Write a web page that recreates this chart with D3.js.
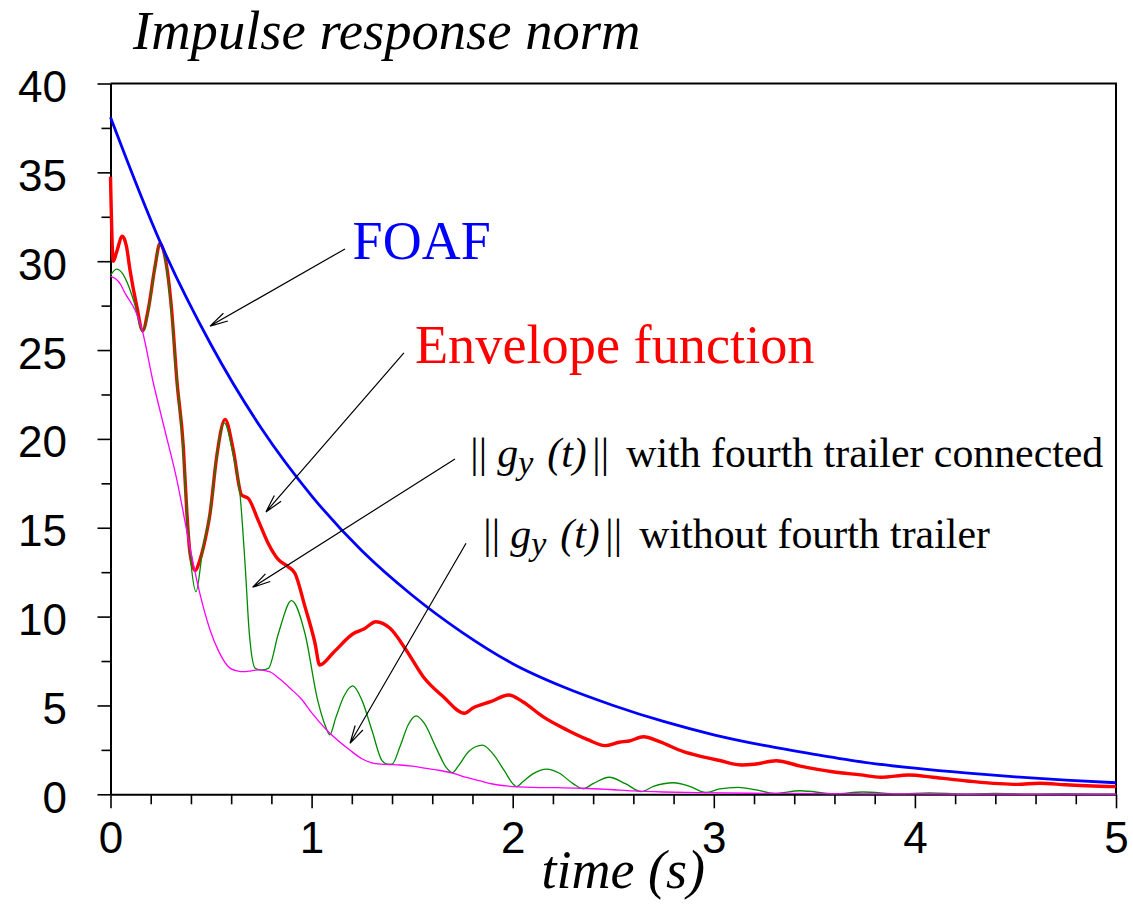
<!DOCTYPE html>
<html>
<head>
<meta charset="utf-8">
<script src="https://cdn.jsdelivr.net/npm/d3@7"></script>
<style>
  body { margin: 0; background: #fff; }
  svg { display: block; }
</style>
</head>
<body>
<svg id="chart" width="1133" height="907"></svg>
<script>
// ---- data -------------------------------------------------------------
// FOAF bound
const foafT = [0, 0.25, 0.5, 0.75, 1, 1.25, 1.5, 1.75, 2, 2.25, 2.5, 2.75, 3, 3.25, 3.5, 3.75, 4, 4.25, 4.5, 4.75, 5];
const foafV = [38.1, 31.0, 25.3, 20.6, 16.8, 13.7, 11.2, 9.1, 7.35, 6.05, 5.0, 4.1, 3.35, 2.75, 2.25, 1.8, 1.47, 1.2, 0.98, 0.8, 0.65];

// Envelope function
const envT = [0, 0.014, 0.03, 0.059, 0.08, 0.097, 0.13, 0.16, 0.188, 0.22, 0.246, 0.27, 0.304, 0.33, 0.362, 0.38, 0.395, 0.42, 0.445, 0.47, 0.495, 0.528, 0.57, 0.61, 0.652, 0.685, 0.735, 0.785, 0.835, 0.884, 0.917, 0.967, 1.017, 1.04, 1.11, 1.21, 1.26, 1.32, 1.39, 1.47, 1.555, 1.655, 1.76, 1.8, 1.89, 1.98, 2.05, 2.15, 2.27, 2.37, 2.46, 2.53, 2.58, 2.65, 2.73, 2.85, 2.93, 3.03, 3.14, 3.2, 3.31, 3.43, 3.59, 3.73, 3.83, 3.97, 4.09, 4.26, 4.51, 4.62, 4.75, 5];
const envV = [34.75, 30.0, 30.5, 31.4, 30.8, 29.5, 27.5, 26.1, 27.3, 29.6, 31.0, 30.3, 27.25, 23.3, 19.56, 15.8, 13.6, 12.6, 13.2, 14.3, 15.8, 19.0, 21.1, 19.4, 16.84, 16.65, 15.4, 14.1, 13.2, 12.8, 12.44, 10.56, 8.5, 7.28, 8.0, 9.06, 9.3, 9.71, 9.34, 8.12, 6.62, 5.49, 4.56, 4.84, 5.21, 5.59, 5.21, 4.37, 3.62, 3.09, 2.74, 2.93, 3.0, 3.24, 2.96, 2.4, 2.15, 1.9, 1.65, 1.69, 1.89, 1.59, 1.27, 1.09, 0.96, 1.09, 0.96, 0.75, 0.56, 0.62, 0.54, 0.43];

// ||g_y(t)|| with fourth trailer connected
const withT = [0, 0.03, 0.06, 0.09, 0.12, 0.16, 0.19, 0.22, 0.246, 0.27, 0.3, 0.33, 0.36, 0.38, 0.4, 0.425, 0.46, 0.495, 0.528, 0.566, 0.61, 0.644, 0.67, 0.69, 0.72, 0.75, 0.785, 0.835, 0.9, 0.967, 1.03, 1.07, 1.09, 1.12, 1.16, 1.204, 1.25, 1.3, 1.35, 1.38, 1.4, 1.44, 1.48, 1.52, 1.56, 1.62, 1.67, 1.7, 1.73, 1.78, 1.85, 1.9, 1.96, 2.0, 2.02, 2.05, 2.1, 2.17, 2.23, 2.3, 2.35, 2.4, 2.48, 2.56, 2.64, 2.7, 2.8, 2.88, 2.96, 3.03, 3.12, 3.21, 3.3, 3.43, 3.6, 3.74, 3.92, 4.07, 4.25, 4.4, 4.58, 4.75, 4.92, 5];
const withV = [29.2, 29.55, 29.3, 28.6, 27.6, 26.0, 27.3, 29.6, 31.0, 30.2, 27.5, 23.3, 19.6, 15.8, 13.0, 11.4, 13.9, 15.8, 19.0, 20.9, 19.1, 16.9, 12.8, 9.1, 7.09, 7.0, 7.09, 9.05, 10.9, 9.05, 5.3, 3.8, 3.34, 4.3, 5.5, 6.1, 5.3, 3.6, 1.9, 1.69, 1.7, 2.7, 3.9, 4.41, 4.0, 2.6, 1.5, 1.22, 1.6, 2.4, 2.77, 2.3, 1.3, 0.6, 0.43, 0.7, 1.15, 1.42, 1.2, 0.6, 0.31, 0.6, 0.96, 0.6, 0.15, 0.45, 0.65, 0.45, 0.1, 0.3, 0.39, 0.25, 0.05, 0.2, 0.03, 0.13, 0.02, 0.08, 0.01, 0.05, 0.01, 0.03, 0.005, 0.01];

// ||g_y(t)|| without fourth trailer
const withoutT = [0, 0.022, 0.05, 0.072, 0.1, 0.122, 0.16, 0.21, 0.27, 0.33, 0.395, 0.43, 0.46, 0.495, 0.54, 0.594, 0.63, 0.66, 0.7, 0.735, 0.79, 0.84, 0.9, 0.95, 1.0, 1.075, 1.19, 1.25, 1.31, 1.37, 1.44, 1.5, 1.57, 1.64, 1.705, 1.77, 1.84, 1.9, 1.97, 2.1, 2.22, 2.35, 2.48, 2.6, 2.75, 2.93, 3.18, 3.5, 4.0, 4.5, 5];
const withoutV = [29.15, 29.04, 28.7, 28.2, 27.7, 27.25, 26.0, 23.3, 20.5, 17.7, 13.9, 12.0, 10.6, 9.25, 8.0, 7.1, 6.95, 6.9, 6.95, 7.0, 6.9, 6.5, 5.9, 5.35, 4.6, 3.62, 2.49, 2.0, 1.74, 1.68, 1.65, 1.58, 1.46, 1.34, 1.18, 0.95, 0.75, 0.58, 0.47, 0.39, 0.37, 0.34, 0.27, 0.19, 0.13, 0.09, 0.06, 0.04, 0.02, 0.01, 0.005];

// axis ticks
const xTickValues = [0, 1, 2, 3, 4, 5];
const yTickValues = [0, 5, 10, 15, 20, 25, 30, 35, 40];

// ---- layout -----------------------------------------------------------
const svg = d3.select("#chart");
const plotLeft = 110.5, plotRight = 1116, plotTop = 83.5, plotBottom = 794.3;
const x = d3.scaleLinear().domain([0, 5]).range([plotLeft, plotRight]);
const y = d3.scaleLinear().domain([0, 40]).range([plotBottom, plotTop]);

const sansFont = "'Liberation Sans', Arial, sans-serif";
const serifFont = "'Liberation Serif', 'Times New Roman', serif";

// ---- axes -------------------------------------------------------------
const xMinor = d3.range(0, 5.0001, 0.2).filter(v => Math.abs(v - Math.round(v)) > 1e-6);
const yMinor = d3.range(2.5, 40, 5);

function styleAxis(g) {
  g.selectAll("path.domain").attr("stroke", "#000").attr("stroke-width", 2);
  g.selectAll(".tick line").attr("stroke", "#000").attr("stroke-width", 1.6);
}

svg.append("g")
  .attr("transform", `translate(0,${plotBottom})`)
  .call(d3.axisBottom(x).tickValues(xMinor).tickSize(10).tickSizeOuter(0).tickFormat(""))
  .call(styleAxis)
  .call(g => g.select("path.domain").remove());

svg.append("g")
  .attr("transform", `translate(${plotLeft},0)`)
  .call(d3.axisLeft(y).tickValues(yMinor).tickSize(9).tickSizeOuter(0).tickFormat(""))
  .call(styleAxis)
  .call(g => g.select("path.domain").remove());

const xAxis = svg.append("g")
  .attr("transform", `translate(0,${plotBottom})`)
  .call(d3.axisBottom(x).tickValues(xTickValues).tickSize(14).tickSizeOuter(0).tickPadding(13.5).tickFormat(d3.format("d")))
  .call(styleAxis);
xAxis.selectAll("text")
  .attr("font-family", sansFont).attr("font-size", 44).attr("fill", "#000");

const yAxis = svg.append("g")
  .attr("transform", `translate(${plotLeft},0)`)
  .call(d3.axisLeft(y).tickValues(yTickValues).tickSize(13).tickSizeOuter(0).tickPadding(30.5).tickFormat(d3.format("d")))
  .call(styleAxis);
yAxis.selectAll("text")
  .attr("font-family", sansFont).attr("font-size", 44).attr("fill", "#000").attr("dy", "0.41em");

// frame: top and right edges
svg.append("line").attr("x1", plotLeft).attr("x2", plotRight + 1).attr("y1", plotTop).attr("y2", plotTop)
  .attr("stroke", "#000").attr("stroke-width", 2);
svg.append("line").attr("x1", plotRight).attr("x2", plotRight).attr("y1", plotTop).attr("y2", plotBottom)
  .attr("stroke", "#000").attr("stroke-width", 2);

// ---- curves -----------------------------------------------------------
const line = d3.line().x(d => x(d[0])).y(d => y(d[1])).curve(d3.curveMonotoneX);
const zipPts = (t, v) => t.map((tt, i) => [tt, v[i]]);

const series = [
  { t: envT, v: envV, color: "#ff0000", width: 3.4 },
  { t: withT, v: withV, color: "#008a00", width: 1.3 },
  { t: withoutT, v: withoutV, color: "#ff00ff", width: 1.3 },
  { t: foafT, v: foafV, color: "#0000ff", width: 2.8 }
];
svg.append("g").selectAll("path").data(series).join("path")
  .attr("d", s => line(zipPts(s.t, s.v)))
  .attr("fill", "none")
  .attr("stroke", s => s.color)
  .attr("stroke-width", s => s.width)
  .attr("stroke-linejoin", "round");

// ---- annotations ------------------------------------------------------
const arrows = [
  { from: [1.166, 30.69], to: [0.495, 26.35] },
  { from: [1.459, 24.84], to: [0.773, 15.89] },
  { from: [1.713, 18.87], to: [0.707, 11.65] },
  { from: [1.768, 14.13], to: [1.191, 2.87] }
];
const headLen = 18.5, headAng = 14 * Math.PI / 180;
const ag = svg.append("g").attr("stroke", "#000").attr("stroke-width", 1.2).attr("fill", "none");
arrows.forEach(a => {
  const x1 = x(a.from[0]), y1 = y(a.from[1]), x2 = x(a.to[0]), y2 = y(a.to[1]);
  const ang = Math.atan2(y1 - y2, x1 - x2);
  const p = d3.path();
  p.moveTo(x1, y1); p.lineTo(x2, y2);
  p.moveTo(x2 + headLen * Math.cos(ang - headAng), y2 + headLen * Math.sin(ang - headAng));
  p.lineTo(x2, y2);
  p.lineTo(x2 + headLen * Math.cos(ang + headAng), y2 + headLen * Math.sin(ang + headAng));
  ag.append("path").attr("d", p.toString());
});

svg.append("text")
  .attr("x", x(1.204)).attr("y", y(30.1))
  .attr("font-family", serifFont).attr("font-size", 54).attr("fill", "#0000ff")
  .text("FOAF");

svg.append("text")
  .attr("x", x(1.514)).attr("y", y(24.26))
  .attr("font-family", serifFont).attr("font-size", 54.3).attr("fill", "#ff0000")
  .text("Envelope function");

// "|| g_y (t)|| ..." label, laid out piece by piece
function normLabel(tx, vy, rest) {
  const x0 = x(tx);
  const t = svg.append("text")
    .attr("y", y(vy))
    .attr("font-family", serifFont).attr("font-size", 41.8).attr("fill", "#000");
  t.append("tspan").attr("x", x0).text("||");
  t.append("tspan").attr("x", x0 + 27).attr("font-style", "italic").text("g");
  t.append("tspan").attr("x", x0 + 48).attr("dy", 7).attr("font-style", "italic").attr("font-size", 34).text("y");
  t.append("tspan").attr("x", x0 + 77).attr("dy", -7).attr("font-style", "italic").text("(t)");
  t.append("tspan").attr("x", x0 + 122).text("||");
  t.append("tspan").attr("x", x0 + 156).text(rest);
}
normLabel(1.789, 18.42, "with fourth trailer connected");
normLabel(1.854, 13.85, "without fourth trailer");

// ---- titles -----------------------------------------------------------
svg.append("text")
  .attr("x", 133).attr("y", 49)
  .attr("font-family", serifFont).attr("font-style", "italic").attr("font-size", 54.6).attr("fill", "#000")
  .text("Impulse response norm");

svg.append("text")
  .attr("x", (plotLeft + plotRight) / 2 + 10).attr("y", 888)
  .attr("text-anchor", "middle")
  .attr("font-family", serifFont).attr("font-style", "italic").attr("font-size", 54).attr("fill", "#000")
  .text("time (s)");
</script>
</body>
</html>
